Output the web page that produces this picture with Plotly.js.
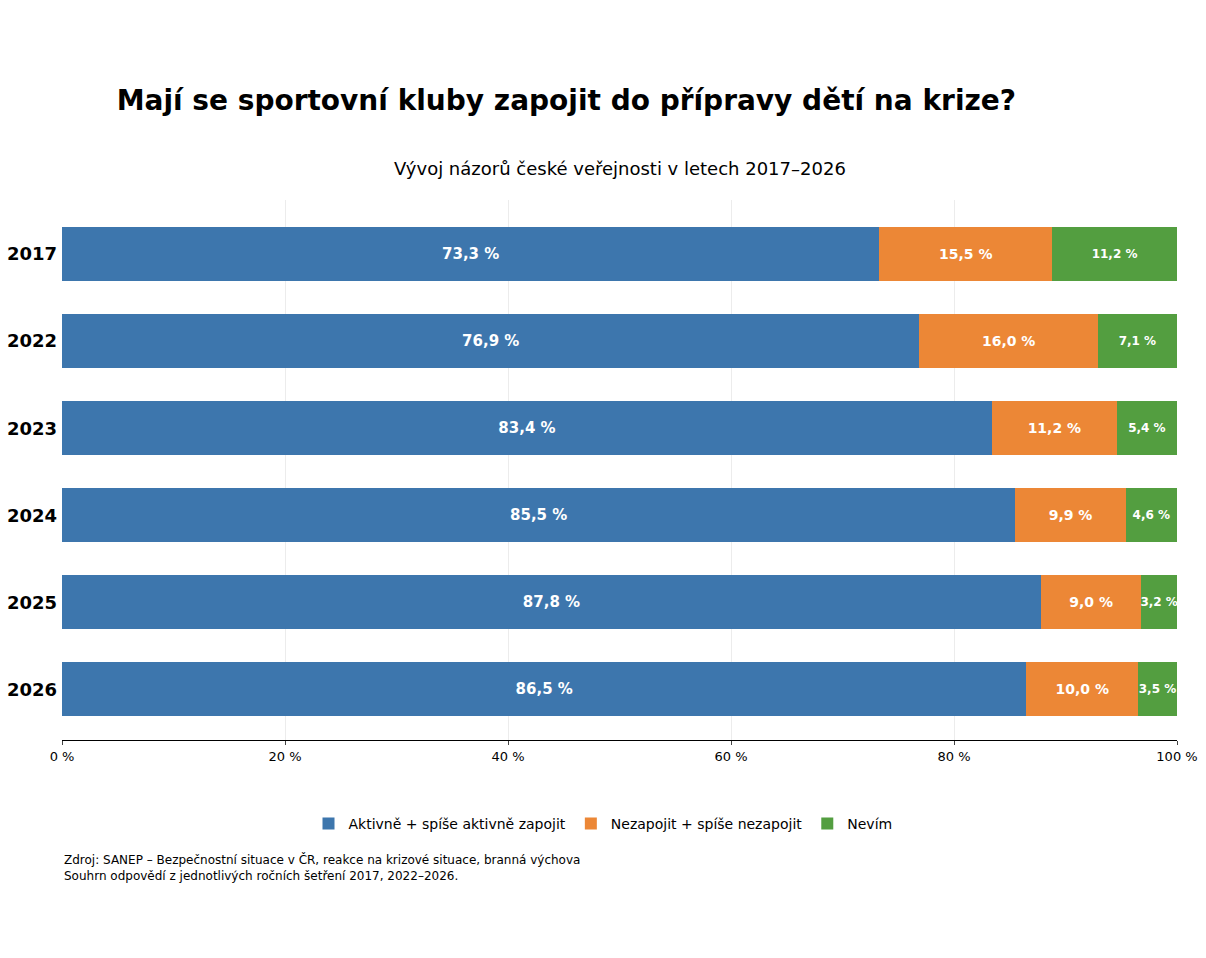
<!DOCTYPE html>
<html>
<head>
<meta charset="utf-8">
<script src="https://cdn.plot.ly/plotly-3.0.1.min.js"></script>
<style>body{margin:0;background:#fff}#plot{width:1206px;height:958px}</style>
</head>
<body>
<div id="plot"></div>
<script>
var years = ['2017', '2022', '2023', '2024', '2025', '2026'];
var aktivne = [73.3, 76.9, 83.4, 85.5, 87.8, 86.5];
var nezapojit = [15.5, 16.0, 11.2, 9.9, 9.0, 10.0];
var nevim = [11.2, 7.1, 5.4, 4.6, 3.2, 3.5];
var xTicks = [0, 20, 40, 60, 80, 100];

function fmt(arr) {
   return arr.map(function (v) { return v.toFixed(1).replace('.', ',') + ' %'; });
}

function barTrace(name, values, color, size) {
   return {
      type: 'bar',
      orientation: 'h',
      name: name,
      y: years,
      x: values,
      text: fmt(values),
      textposition: 'inside',
      insidetextanchor: 'middle',
      textangle: 0,
      constraintext: 'none',
      textfont: {family: 'DejaVu Sans', size: size, color: 'white', weight: 'bold'},
      marker: {color: color},
      width: 0.62,
      hoverinfo: 'x+name'
   };
}

var traces = [
   barTrace('Aktivně + spíše aktivně zapojit', aktivne, '#3d76ad', 15),
   barTrace('Nezapojit + spíše nezapojit', nezapojit, '#ec8736', 14),
   barTrace('Nevím', nevim, '#539e40', 12)
];

var layout = {
   width: 1206,
   height: 958,
   barmode: 'stack',
   paper_bgcolor: 'white',
   plot_bgcolor: 'white',
   margin: {l: 62, r: 29, t: 200, b: 218},
   font: {family: 'DejaVu Sans', color: 'black'},
   title: {
      text: '<b>Mají se sportovní kluby zapojit do přípravy dětí na krize?</b>',
      font: {size: 28, family: 'DejaVu Sans'},
      x: 0.049, xanchor: 'left', xref: 'paper',
      y: 0.895, yanchor: 'middle', yref: 'container'
   },
   xaxis: {
      range: [0, 100],
      tickvals: xTicks,
      ticktext: xTicks.map(function (t) { return t + ' %'; }),
      tickfont: {size: 13},
      showgrid: true,
      gridcolor: '#ececec',
      showline: true,
      linecolor: 'black',
      ticks: 'outside',
      ticklen: 4,
      zeroline: false,
      fixedrange: true
   },
   yaxis: {
      type: 'category',
      range: [5.58, -0.62],
      tickfont: {size: 18, weight: 'bold'},
      ticks: '',
      ticklabelstandoff: 4,
      showgrid: false
   },
   showlegend: true,
   legend: {
      orientation: 'h',
      x: 0.5, xanchor: 'center', xref: 'container',
      y: 0.14, yanchor: 'middle', yref: 'container',
      font: {size: 14},
      traceorder: 'normal'
   },
   annotations: [
      {
         text: 'Vývoj názorů české veřejnosti v letech 2017–2026',
         xref: 'paper', yref: 'paper', x: 0.5, y: 1.059,
         xanchor: 'center', yanchor: 'middle', showarrow: false,
         font: {size: 18}
      },
      {
         text: 'Zdroj: SANEP – Bezpečnostní situace v ČR, reakce na krizové situace, branná výchova<br>Souhrn odpovědí z jednotlivých ročních šetření 2017, 2022–2026.',
         xref: 'paper', yref: 'paper', x: 0, y: -0.237,
         xanchor: 'left', yanchor: 'middle', align: 'left', showarrow: false,
         font: {size: 12}
      }
   ]
};

Plotly.newPlot('plot', traces, layout, {displayModeBar: false});
</script>
</body>
</html>
